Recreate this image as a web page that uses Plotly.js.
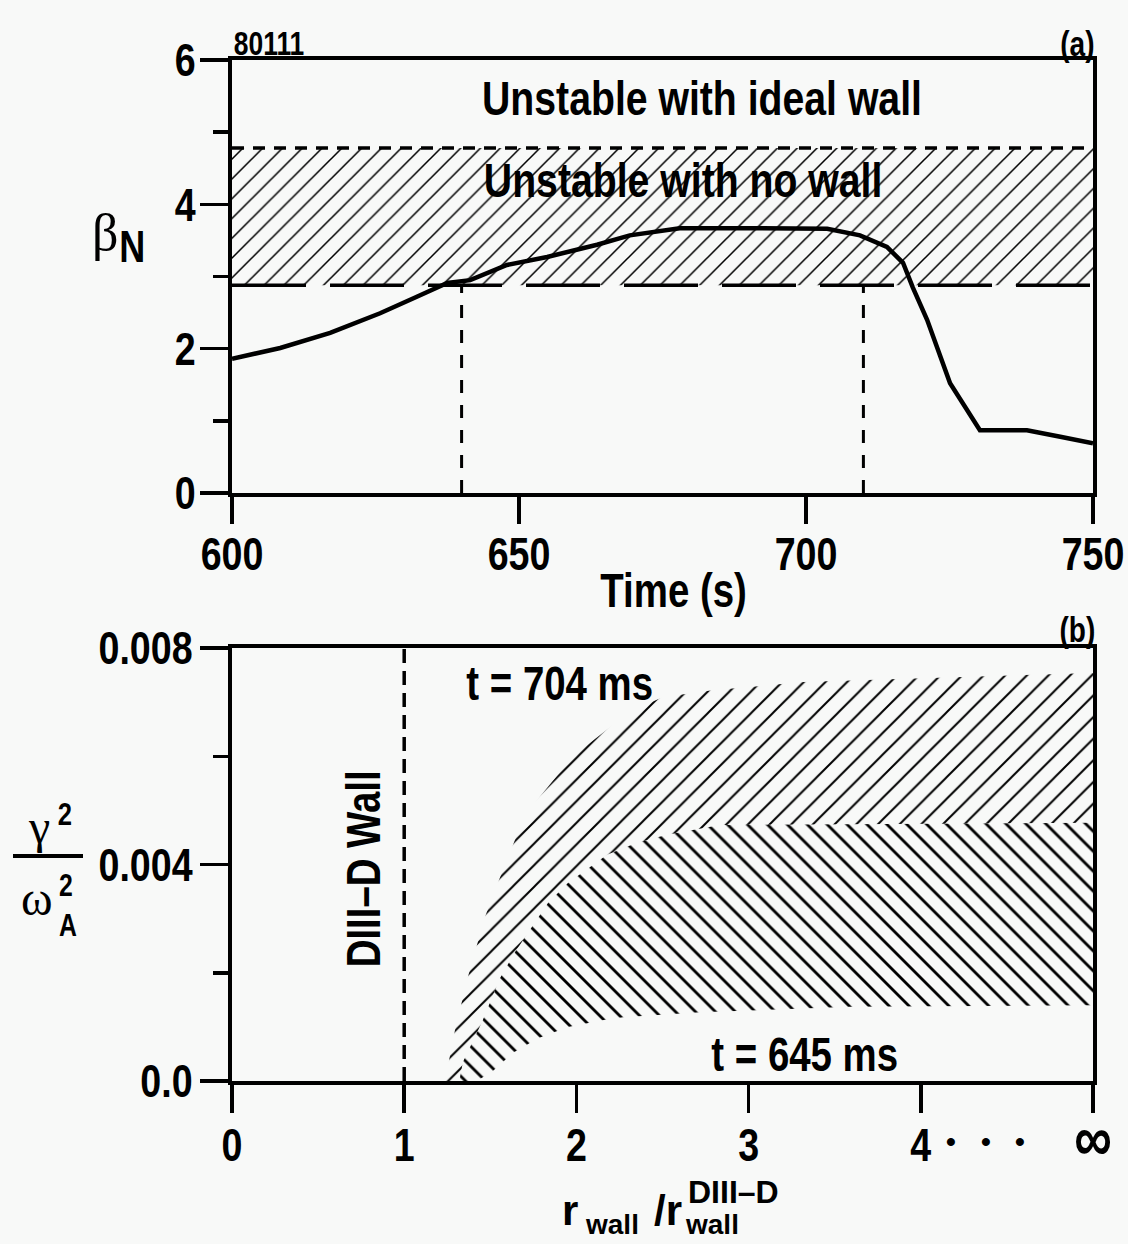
<!DOCTYPE html>
<html>
<head>
<meta charset="utf-8">
<script src="https://cdn.plot.ly/plotly-3.0.1.min.js"></script>
<style>html,body{margin:0;padding:0;background:#f8f9f8;}</style>
</head>
<body>
<div id="chart" style="width:1128px;height:1244px;"></div>
<script>
// ---------- data: panel (a) ----------
const timeS = [600, 608.4, 617.1, 625.8, 632.2, 637.5, 641.5, 647.9, 654.9, 663.6, 669.3, 674.6, 678, 692, 703.7, 709.4, 714.1, 716.9, 718.6, 721.1, 725.1, 730.3, 738.5, 744.3, 750];
const betaN = [1.86, 2.01, 2.22, 2.49, 2.72, 2.91, 2.95, 3.16, 3.27, 3.44, 3.57, 3.64, 3.67, 3.67, 3.66, 3.57, 3.41, 3.19, 2.85, 2.40, 1.52, 0.87, 0.87, 0.78, 0.69];
const timeRange = [600, 750];
const betaNoWall = 2.88;      // lower edge of hatched band
const betaIdealWall = 4.78;   // upper edge of hatched band
const markTimes = [640, 710]; // vertical dashed markers
const timeTicks = [600, 650, 700, 750];
const betaTicks = [0, 2, 4, 6];
const betaMinorTicks = [1, 3, 5];

// ---------- data: panel (b) ----------
const r704 = [1.237, 1.295, 1.37, 1.469, 1.539, 1.70, 1.98, 2.31, 2.50, 2.79, 3.32, 5.0];
const g704 = [0, 0.00094, 0.00192, 0.00303, 0.00362, 0.00491, 0.0060, 0.00682, 0.00709, 0.00722, 0.00737, 0.00754];
const r645Upper = [1.32, 1.341, 1.452, 1.556, 1.643, 1.742, 1.835, 1.951, 2.178, 2.352, 2.526, 2.834, 5.0];
const g645Upper = [0, 0.00035, 0.00109, 0.0019, 0.00238, 0.00285, 0.00329, 0.00366, 0.00418, 0.0044, 0.00455, 0.00473, 0.00477];
const r645Lower = [1.42, 1.51, 1.632, 1.777, 1.951, 2.166, 2.27, 2.72, 3.59, 5.0];
const g645Lower = [0, 0.00017, 0.00052, 0.00079, 0.001, 0.00113, 0.00118, 0.00127, 0.00137, 0.0014];
const wallRatioDIIID = 1;
const rTicks = [0, 1, 2, 3, 4, 5];
const rTickText = ['0', '1', '2', '3', '4', '<span style="font-size:66px">∞</span>'];
const gTicks = [0, 0.004, 0.008];
const gTickText = ['0.0', '0.004', '0.008'];
const gMinorTicks = [0.002, 0.006];
const gRange = [0, 0.008];
const rRange = [0, 5];

// ---------- styling helpers ----------
const W = 1128, H = 1244;
const px = v => v / W;
const py = v => 1 - v / H;
const FONT = "'Liberation Sans', Arial, sans-serif";      // narrowed after drawing
const WIDE = "'Liberation Sans', Arimo, sans-serif";      // left at normal width
const SERIF = "'Liberation Serif', 'DejaVu Serif', serif";
const NARROW = 0.8;
const INK = '#000000';
const bold = (size, fam) => ({family: fam || FONT, size: size, color: INK, weight: 'bold'});

const xDom = [px(232), px(1093)];
const yDomA = [py(493), py(60)];
const yDomB = [py(1081), py(648)];

// ---------- traces ----------
const traces = [];
traces.push({x: timeRange, y: timeRange.map(() => betaNoWall), mode: 'lines', xaxis: 'x', yaxis: 'y',
  line: {color: INK, width: 3.5, dash: '74px,24px'}, hoverinfo: 'skip', showlegend: false});
traces.push({x: timeRange, y: timeRange.map(() => betaIdealWall), mode: 'lines', xaxis: 'x', yaxis: 'y',
  fill: 'tonexty', fillcolor: 'rgba(0,0,0,0)',
  fillpattern: {shape: '/', size: 14, solidity: 0.11, fgcolor: INK, fgopacity: 1, bgcolor: 'rgba(0,0,0,0)', fillmode: 'overlay'},
  line: {color: INK, width: 3.5, dash: '12px,9px'}, hoverinfo: 'skip', showlegend: false});
const mx = [], my = [];
markTimes.forEach(t => { mx.push(t, t, null); my.push(0, betaNoWall, null); });
traces.push({x: mx, y: my, mode: 'lines', xaxis: 'x', yaxis: 'y',
  line: {color: INK, width: 3, dash: '13px,12px'}, hoverinfo: 'skip', showlegend: false});
traces.push({x: timeS, y: betaN, mode: 'lines', xaxis: 'x', yaxis: 'y',
  line: {color: INK, width: 4.5, shape: 'linear'}, showlegend: false});

traces.push({x: r704.concat(r645Upper.slice().reverse()), y: g704.concat(g645Upper.slice().reverse()),
  mode: 'lines', fill: 'toself', xaxis: 'x2', yaxis: 'y2', fillcolor: 'rgba(0,0,0,0)',
  fillpattern: {shape: '/', size: 15.3, solidity: 0.13, fgcolor: INK, fgopacity: 1, bgcolor: 'rgba(0,0,0,0)', fillmode: 'overlay'},
  line: {width: 0, color: 'rgba(0,0,0,0)'}, hoverinfo: 'skip', showlegend: false});
traces.push({x: r645Upper.concat(r645Lower.slice().reverse()), y: g645Upper.concat(g645Lower.slice().reverse()),
  mode: 'lines', fill: 'toself', xaxis: 'x2', yaxis: 'y2', fillcolor: 'rgba(0,0,0,0)',
  fillpattern: {shape: '\\', size: 14.1, solidity: 0.2, fgcolor: INK, fgopacity: 1, bgcolor: 'rgba(0,0,0,0)', fillmode: 'overlay'},
  line: {width: 0, color: 'rgba(0,0,0,0)'}, hoverinfo: 'skip', showlegend: false});
traces.push({x: [wallRatioDIIID, wallRatioDIIID], y: gRange, mode: 'lines', xaxis: 'x2', yaxis: 'y2',
  line: {color: INK, width: 3.5, dash: '14px,8px'}, hoverinfo: 'skip', showlegend: false});

// ---------- axes ----------
const axisBase = {showline: true, linewidth: 4, linecolor: INK, mirror: true, ticks: 'outside',
  tickwidth: 3.5, tickcolor: INK, showgrid: false, zeroline: false, tickfont: bold(47), fixedrange: true,
  ticklabeloverflow: 'allow'};

const layout = {
  width: W, height: H,
  margin: {l: 0, r: 0, t: 0, b: 0},
  paper_bgcolor: '#f8f9f8', plot_bgcolor: '#f8f9f8',
  showlegend: false,
  xaxis: Object.assign({}, axisBase, {domain: xDom, anchor: 'y', range: timeRange, tickmode: 'array', tickvals: timeTicks,
    ticklen: 27, ticklabelstandoff: -10}),
  yaxis: Object.assign({}, axisBase, {domain: yDomA, anchor: 'x', range: [0, 6], tickmode: 'array', tickvals: betaTicks,
    ticklen: 28, ticklabelstandoff: -5,
    minor: {ticks: 'outside', tickmode: 'array', tickvals: betaMinorTicks, ticklen: 15, tickwidth: 3.5, tickcolor: INK, showgrid: false}}),
  xaxis2: Object.assign({}, axisBase, {domain: xDom, anchor: 'y2', range: rRange, tickmode: 'array', tickvals: rTicks,
    ticktext: rTickText, ticklen: 28, ticklabelstandoff: -8}),
  yaxis2: Object.assign({}, axisBase, {domain: yDomB, anchor: 'x2', range: gRange, tickmode: 'array', tickvals: gTicks,
    ticktext: gTickText, ticklen: 28, ticklabelstandoff: -2,
    minor: {ticks: 'outside', tickmode: 'array', tickvals: gMinorTicks, ticklen: 15, tickwidth: 3.5, tickcolor: INK, showgrid: false}}),
  shapes: [
    {type: 'line', xref: 'paper', yref: 'paper', x0: px(13), x1: px(83), y0: py(856), y1: py(856), line: {color: INK, width: 4}}
  ],
  annotations: []
};

function note(text, x, y, font, opts) {
  layout.annotations.push(Object.assign({text: text, xref: 'paper', yref: 'paper', x: px(x), y: py(y),
    xanchor: 'center', yanchor: 'middle', showarrow: false, font: font}, opts || {}));
}
// panel (a)
note('80111', 269, 44, bold(33));
note('(a)', 1077, 44, bold(35));
note('Unstable with ideal wall', 702, 98, bold(49));
note('Unstable with no wall', 683, 180, bold(49));
note('Time (s)', 674, 590, bold(48));
note('β', 105, 233, {family: SERIF, size: 52, color: INK});
note('N', 132, 247, bold(45));
// panel (b)
note('(b)', 1077, 629, bold(35));
note('t = 704 ms', 559, 683, bold(48));
note('t = 645 ms', 804, 1054, bold(48));
note('DIII–D Wall', 363, 869, bold(48), {textangle: -90});
note('γ', 39, 826, {family: SERIF, size: 48, color: INK});
note('2', 65, 814, bold(32));
note('ω', 37, 898, {family: SERIF, size: 48, color: INK});
note('2<br>A', 57, 905, bold(31), {xanchor: 'left', align: 'left'});
note('•', 951, 1141, bold(28, WIDE));
note('•', 986, 1141, bold(28, WIDE));
note('•', 1020, 1141, bold(28, WIDE));
note('r', 570, 1210, bold(42, WIDE));
note('wall', 612, 1224, bold(28, WIDE));
note('/r', 668, 1210, bold(42, WIDE));
note('wall', 712, 1224, bold(28, WIDE));
note('DIII–D', 733, 1192, bold(32, WIDE));

Plotly.newPlot('chart', traces, layout, {displayModeBar: false, staticPlot: true}).then(gd => {
  // emulate a condensed bold face: squeeze each sans text horizontally around its anchor
  gd.querySelectorAll('text').forEach(t => {
    const fam = t.style.fontFamily || '';
    if (fam.indexOf('Arial') < 0) return;
    const bb = t.getBBox();
    if (!bb.width) return;
    const anchor = t.getAttribute('text-anchor') || 'start';
    const ax = anchor === 'middle' ? bb.x + bb.width / 2 : (anchor === 'end' ? bb.x + bb.width : bb.x);
    const tr = t.getAttribute('transform') || '';
    t.setAttribute('transform', tr + ' translate(' + ax + ',0) scale(' + NARROW + ',1) translate(' + (-ax) + ',0)');
  });
});
</script>
</body>
</html>
